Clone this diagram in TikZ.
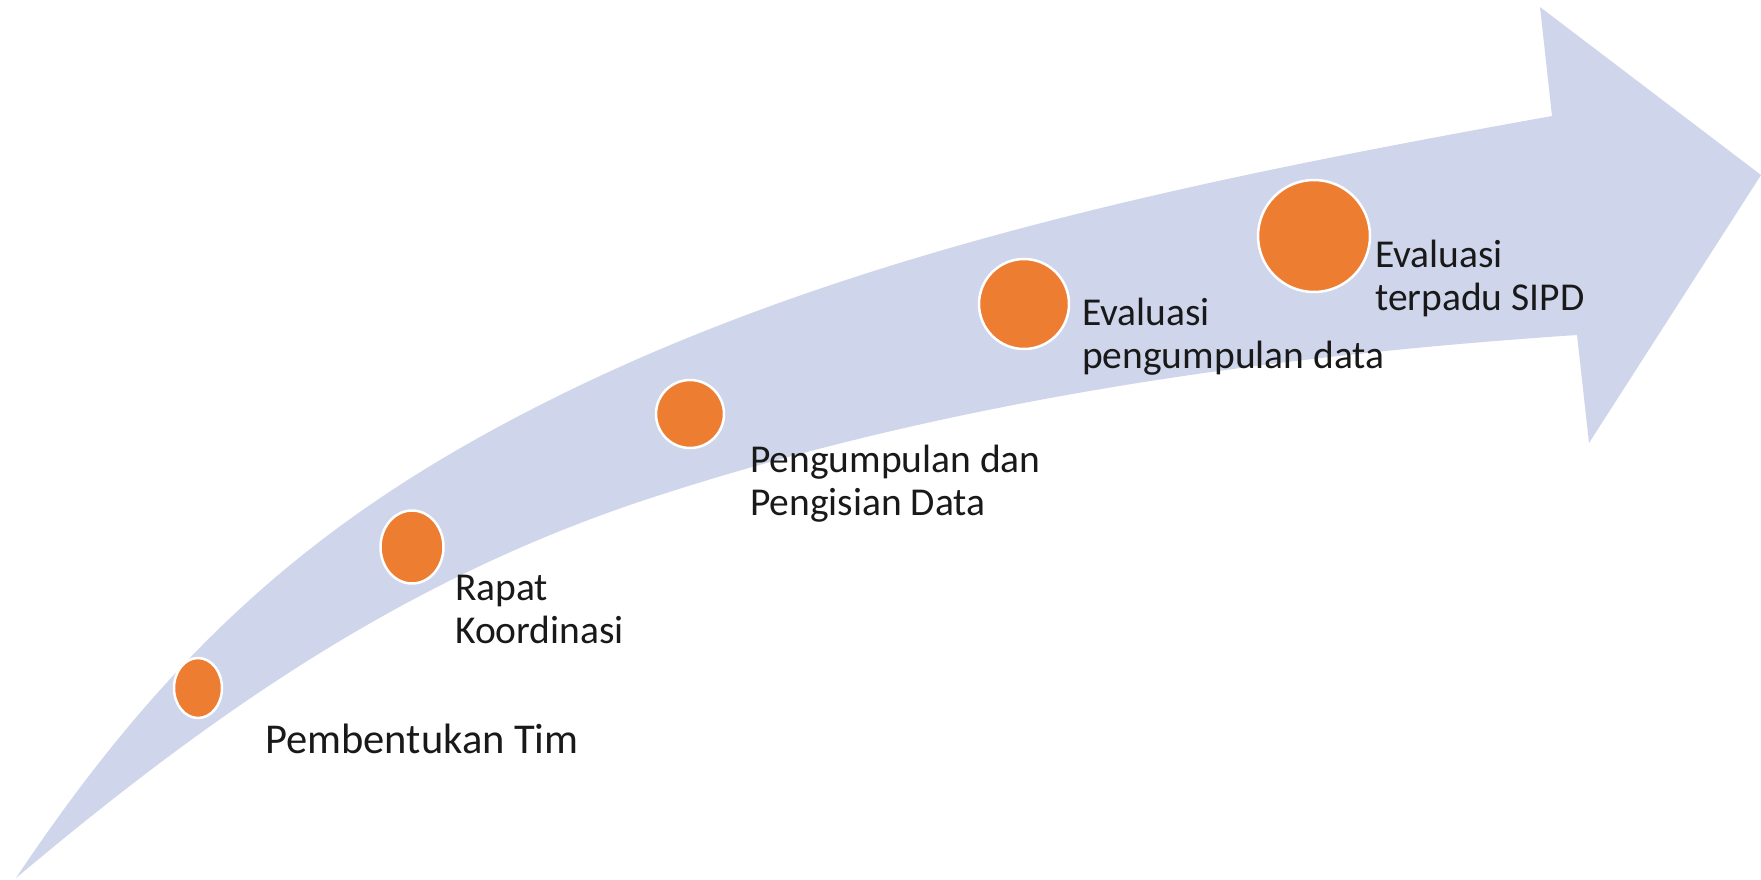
\documentclass[tikz,border=0pt]{standalone}
\usepackage{fontspec}
\setmainfont{Carlito}
\usetikzlibrary{shapes.geometric}
\definecolor{bandblue}{HTML}{CFD5EA}
\definecolor{dotorange}{HTML}{ED7D31}
\tikzset{
  band/.style={fill=bandblue},
  dot/.style={ellipse, fill=dotorange, draw=white, line width=2.5pt, inner sep=0pt},
  lbl/.style={anchor=base west, inner sep=0pt, font=\fontsize{39.5}{43}\selectfont, text=black!90},
  biglbl/.style={lbl, font=\fontsize{42.5}{43}\selectfont}
}
\newcommand{\twolines}[2]{\begin{tabular}[t]{@{}l@{}}#1\\#2\end{tabular}}
\begin{document}
\begin{tikzpicture}[x=1pt,y=-1pt]
\useasboundingbox (0,0) rectangle (1761,879);
\fill[band] (16,878) .. controls (176,638) and (330,510) .. (550,400)
  .. controls (850,250) and (1202,179) .. (1552,116)
  -- (1540,7) -- (1761,175) -- (1589,443) -- (1577,335)
  .. controls (1277,355) and (960,398) .. (660,495)
  .. controls (410,575) and (216,710) .. (16,878)
  -- cycle;
\node[dot, minimum width=48pt, minimum height=60pt] (c1) at (198,688) {};
\node[dot, minimum width=63pt, minimum height=73pt] (c2) at (412,547) {};
\node[dot, minimum width=68pt, minimum height=68pt] (c3) at (690,414) {};
\node[dot, minimum width=90pt, minimum height=90pt] (c4) at (1024,304) {};
\node[dot, minimum width=112pt, minimum height=112pt] (c5) at (1314,236) {};
\node[biglbl] (t1) at (265,753) {Pembentukan Tim};
\node[lbl] (t2) at (455,600) {\twolines{Rapat}{Koordinasi}};
\node[lbl] (t3) at (750,472) {\twolines{Pengumpulan dan}{Pengisian Data}};
\node[lbl] (t4) at (1082,325) {\twolines{Evaluasi}{pengumpulan data}};
\node[lbl] (t5) at (1375,267) {\twolines{Evaluasi}{terpadu SIPD}};
\end{tikzpicture}
\end{document}
